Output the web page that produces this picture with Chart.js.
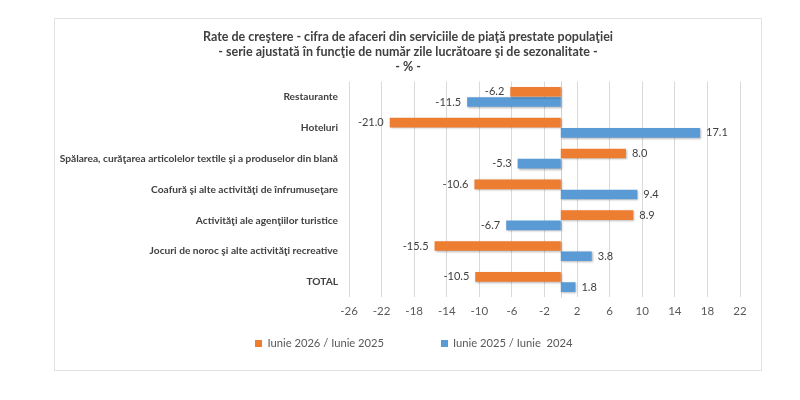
<!DOCTYPE html>
<html>
<head>
<meta charset="utf-8">
<script src="https://cdn.jsdelivr.net/npm/chart.js@4.4.1/dist/chart.umd.min.js"></script>
<style>
  html, body { margin: 0; padding: 0; background: #fff; }
  #wrap { position: relative; width: 800px; height: 400px; }
  #frame { position: absolute; left: 54px; top: 18px; width: 708px; height: 353px;
           border: 1.5px solid #e2e2e2; box-sizing: border-box; }
  #chart { position: absolute; left: 0; top: 0; }
</style>
</head>
<body>
<div id="wrap">
  <div id="frame"></div>
  <canvas id="chart" width="800" height="400"></canvas>
</div>
<script>
// chart data
var titleLines = [
  'Rate de creştere - cifra de afaceri din serviciile de piaţă prestate populaţiei',
  '- serie ajustată în funcţie de număr zile lucrătoare şi de sezonalitate -',
  '- % -'
]
var categories = [
  'Restaurante',
  'Hoteluri',
  'Spălarea, curăţarea articolelor textile şi a produselor din blană',
  'Coafură şi alte activităţi de înfrumuseţare',
  'Activităţi ale agenţiilor turistice',
  'Jocuri de noroc şi alte activităţi recreative',
  'TOTAL'
]
var seriesNames = ['Iunie 2026 / Iunie 2025', 'Iunie 2025 / Iunie  2024']
var values2026 = [-6.2, -21.0, 8.0, -10.6, 8.9, -15.5, -10.5]
var values2025 = [-11.5, 17.1, -5.3, 9.4, -6.7, 3.8, 1.8]
var axisMin = -26
var axisMax = 22
var axisStep = 4

var FONT = 'Lato, "Open Sans", sans-serif'
var colors = ['#ED7D31', '#5B9BD5']

// vertical line at zero (category axis crossing)
var zeroLine = {
  id: 'zeroLine',
  beforeDatasetsDraw: function (chart) {
    var ctx = chart.ctx
    var area = chart.chartArea
    var x = Math.round(chart.scales.x.getPixelForValue(0)) + 0.5
    ctx.save()
    ctx.strokeStyle = '#d0d0d0'
    ctx.lineWidth = 1
    ctx.beginPath()
    ctx.moveTo(x, area.top)
    ctx.lineTo(x, area.bottom)
    ctx.stroke()
    ctx.restore()
  }
}

// long category names run past the frame on the left; widen the label clip
var wideLabels = {
  id: 'wideLabels',
  afterLayout: function (chart) {
    chart.scales.y.left = 0
  }
}

// soft shadow under the bars
var barShadow = {
  id: 'barShadow',
  beforeDatasetDraw: function (chart) {
    var ctx = chart.ctx
    ctx.save()
    ctx.shadowColor = 'rgba(0,0,0,0.28)'
    ctx.shadowBlur = 2
    ctx.shadowOffsetX = 1
    ctx.shadowOffsetY = 1
  },
  afterDatasetDraw: function (chart) {
    chart.ctx.restore()
  }
}

// value labels at the outer end of each bar
var valueLabels = {
  id: 'valueLabels',
  afterDatasetsDraw: function (chart) {
    var ctx = chart.ctx
    ctx.save()
    ctx.font = '11px ' + FONT
    ctx.fillStyle = '#404040'
    ctx.textBaseline = 'middle'
    chart.data.datasets.forEach(function (ds, i) {
      var meta = chart.getDatasetMeta(i)
      meta.data.forEach(function (bar, j) {
        var v = ds.data[j]
        var txt = v.toFixed(1)
        if (v < 0) {
          ctx.textAlign = 'right'
          ctx.fillText(txt, bar.x - 6, bar.y)
        } else {
          ctx.textAlign = 'left'
          ctx.fillText(txt, bar.x + 6, bar.y)
        }
      })
    })
    ctx.restore()
  }
}

// legend drawn as one row, wide gap between the two items
var legendRow = {
  id: 'legendRow',
  afterDraw: function (chart) {
    var ctx = chart.ctx
    var box = 7, gapText = 5, gapItem = 57
    ctx.save()
    ctx.font = '11.2px ' + FONT
    ctx.textBaseline = 'middle'
    ctx.textAlign = 'left'
    var widths = chart.data.datasets.map(function (ds) {
      return box + gapText + ctx.measureText(ds.label).width
    })
    var total = widths[0] + widths[1] + gapItem
    var tb = chart.titleBlock
    var cx = tb ? tb.left + tb.width / 2 : chart.width / 2
    var x = cx - total / 2 + 6
    var y = chart.chartArea.bottom + 45.6
    chart.data.datasets.forEach(function (ds, i) {
      ctx.fillStyle = ds.backgroundColor
      ctx.fillRect(Math.round(x), Math.round(y - box / 2), box, box)
      ctx.fillStyle = '#595959'
      ctx.fillText(ds.label, x + box + gapText, y)
      x += widths[i] + gapItem
    })
    ctx.restore()
  }
}

var ctx = document.getElementById('chart').getContext('2d')
var chart = new Chart(ctx, {
  type: 'bar',
  data: {
    labels: categories,
    datasets: [
      { label: seriesNames[0], data: values2026, backgroundColor: colors[0] },
      { label: seriesNames[1], data: values2025, backgroundColor: colors[1] }
    ]
  },
  options: {
    indexAxis: 'y',
    responsive: false,
    animation: false,
    devicePixelRatio: 1,
    categoryPercentage: 0.66,
    barPercentage: 0.95,
    layout: {
      padding: { left: 76, right: 60, top: 29, bottom: 72.6 }
    },
    scales: {
      x: {
        min: axisMin,
        max: axisMax,
        ticks: {
          stepSize: axisStep,
          color: '#595959',
          padding: 7,
          font: { family: FONT, size: 11.5 }
        },
        grid: { color: '#d9d9d9', drawTicks: false },
        border: { display: false },
        afterFit: function (s) {
          s.height = 30
          s.paddingLeft = 0
          s.paddingRight = 0
        }
      },
      y: {
        ticks: {
          color: '#404040',
          padding: 11,
          autoSkip: false,
          font: { family: FONT, size: 10.2, weight: 'bold' }
        },
        grid: { display: false, drawTicks: false },
        border: { display: false },
        afterFit: function (s) {
          s.width = 273
          s.paddingTop = 0
          s.paddingBottom = 0
        }
      }
    },
    plugins: {
      legend: { display: false },
      tooltip: { enabled: false },
      title: {
        display: true,
        text: titleLines,
        color: '#404040',
        font: { family: FONT, size: 12.5, weight: 'bold', lineHeight: 1.2 },
        padding: { top: 0, bottom: 7.45 }
      }
    }
  },
  plugins: [zeroLine, wideLabels, barShadow, valueLabels, legendRow]
})
</script>
</body>
</html>
